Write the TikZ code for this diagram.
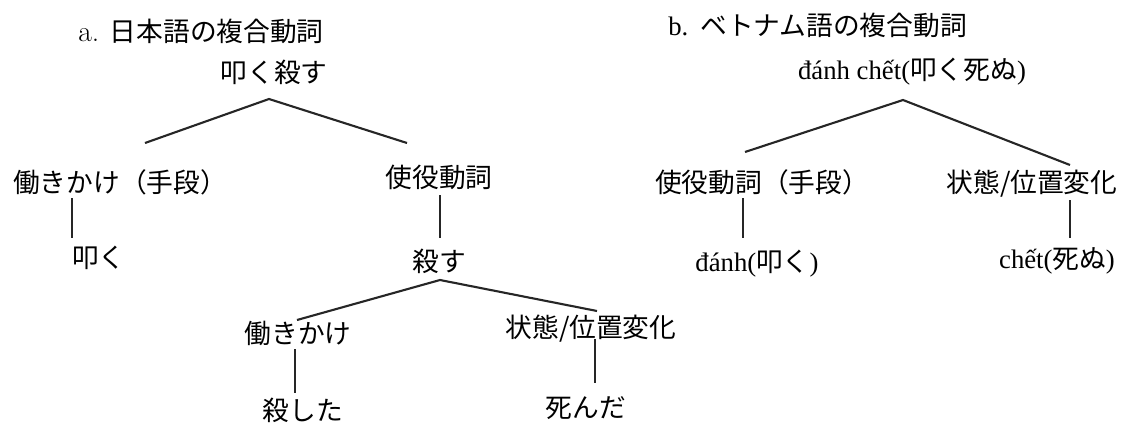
\documentclass[tikz,border=0pt]{standalone}
\usepackage{fontspec}
\newfontfamily\jp{Noto Sans CJK JP}
\newfontfamily\tnr{Liberation Serif}
\begin{document}
\begin{tikzpicture}[x=0.025cm,y=-0.025cm,
  lbl/.style={inner sep=0pt,font=\fontsize{19}{22}\selectfont\jp},
  edge/.style={line width=1.5pt,black!85}]
\useasboundingbox (0,0) rectangle (1125,423);
% tree a
\node[lbl,anchor=west] (headA) at (78,31) {{\fontsize{21}{24}\selectfont\rmfamily a.}\hspace{0.4em}日本語の複合動詞};
\node[lbl] (rootA) at (274,72) {叩く殺す};
\node[lbl,anchor=west] (A1) at (13,182) {働きかけ（手段）};
\node[lbl] (A2) at (439,177) {使役動詞};
\node[lbl,anchor=west] (A3) at (72,258) {叩く};
\node[lbl] (A4) at (439,261) {殺す};
\node[lbl] (A5) at (298,333) {働きかけ};
\node[lbl] (A6) at (591,329) {状態/位置変化};
\node[lbl] (A7) at (303,410) {殺した};
\node[lbl] (A8) at (586,408) {死んだ};
\coordinate (a0) at (269,99);
\coordinate (a1) at (145,143);
\coordinate (a2) at (407,143);
\coordinate (a1b) at (72,198);
\coordinate (a3t) at (72,238);
\coordinate (a2b) at (440,195);
\coordinate (a4t) at (440,238);
\coordinate (a4) at (440,280);
\coordinate (a5) at (297,320);
\coordinate (a6) at (597,311);
\coordinate (a5b) at (295,349);
\coordinate (a7t) at (295,393);
\coordinate (a6b) at (595,339);
\coordinate (a8t) at (595,383);
\draw[edge] (a1) -- (a0) -- (a2);
\draw[edge] (a1b) -- (a3t);
\draw[edge] (a2b) -- (a4t);
\draw[edge] (a5) -- (a4) -- (a6);
\draw[edge] (a5b) -- (a7t);
\draw[edge] (a6b) -- (a8t);
% tree b
\node[lbl,anchor=west] (headB) at (668,25) {{\tnr b.}\hspace{0.45em}ベトナム語の複合動詞};
\node[lbl] (rootB) at (912,72) {{\tnr đánh chết(}叩く死ぬ{\tnr )}};
\node[lbl] (B1) at (762,182) {使役動詞（手段）};
\node[lbl] (B2) at (1032,184) {状態/位置変化};
\node[lbl] (B3) at (757,264) {{\tnr đánh(}叩く{\tnr )}};
\node[lbl] (B4) at (1057,261) {{\tnr chết(}死ぬ{\tnr )}};
\coordinate (b0) at (903,100);
\coordinate (b1) at (745,152);
\coordinate (b2) at (1070,165);
\coordinate (b1b) at (743,198);
\coordinate (b3t) at (743,238);
\coordinate (b2b) at (1070,200);
\coordinate (b4t) at (1070,238);
\draw[edge] (b1) -- (b0) -- (b2);
\draw[edge] (b1b) -- (b3t);
\draw[edge] (b2b) -- (b4t);
\end{tikzpicture}
\end{document}
